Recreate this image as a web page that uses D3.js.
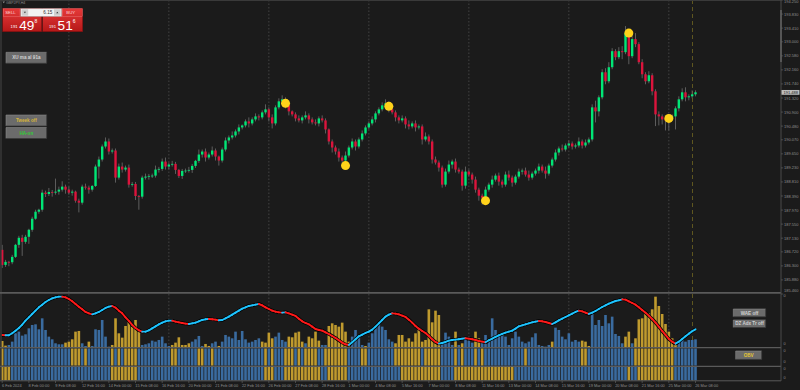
<!DOCTYPE html>
<html>
<head>
<meta charset="utf-8">
<script src="https://cdn.jsdelivr.net/npm/d3@7"></script>
<style>
  html, body { margin: 0; padding: 0; background: #1b1b1b; }
  svg { display: block; font-family: "Liberation Sans", Arial, sans-serif; }
</style>
</head>
<body>
<div id="chart"></div>
<script>
// GBPJPY H4 candles, one per bar (open = previous close)
var firstOpen = 186.78;
var closes = [
  186.33,186.42,186.41,186.57,186.93,187.14,187.02,187.17,187.38,187.71,
  187.92,187.98,188.49,188.45,188.51,188.49,188.52,188.58,188.67,188.58,
  188.49,188.52,188.25,188.19,188.67,188.64,188.58,188.69,189.27,189.48,
  189.87,190.02,189.72,189.75,188.94,189.27,189.18,189.24,188.73,188.75,
  188.39,188.37,188.94,188.97,188.99,189.00,189.18,189.20,189.42,189.27,
  189.33,189.35,189.17,188.99,189.14,189.15,189.17,189.29,189.44,189.63,
  189.72,189.54,189.63,189.75,189.57,189.45,189.78,190.05,190.14,190.20,
  190.32,190.44,190.50,190.62,190.56,190.68,190.77,190.74,190.89,190.98,
  190.74,190.56,191.04,191.22,191.28,191.10,190.92,190.83,190.71,190.65,
  190.74,190.80,190.68,190.59,190.56,190.71,190.65,190.38,190.02,189.84,
  189.72,189.54,189.45,189.60,189.84,190.02,189.87,190.08,190.26,190.44,
  190.56,190.68,190.86,190.98,191.10,191.16,190.98,190.89,190.74,190.65,
  190.71,190.53,190.47,190.56,190.44,190.47,190.08,190.17,190.02,189.48,
  189.39,189.24,188.73,189.12,189.33,189.42,189.18,189.12,188.70,189.12,
  189.03,188.88,188.58,188.40,188.34,188.58,188.73,188.88,189.00,188.82,
  188.73,189.03,188.94,188.79,188.97,189.12,189.15,189.03,188.94,189.06,
  189.15,189.27,189.15,189.06,189.30,189.48,189.69,189.81,189.78,189.90,
  189.96,189.87,189.90,190.02,189.90,189.99,190.08,191.04,190.92,191.34,
  192.09,191.82,192.24,192.72,192.54,192.72,192.69,193.26,192.57,193.08,
  192.93,192.39,192.03,191.82,192.00,191.52,190.83,190.77,190.68,190.65,
  190.74,190.77,191.01,191.28,191.49,191.34,191.37,191.43,191.49
];
// wick lengths above / below the body
var wickHi = [
  .15,.06,.03,.06,.03,.06,.09,.06,.03,.06, .06,.03,.09,.06,.12,.06,.39,.09,.16,.06,
  .09,.06,.03,.06,.06,.09,.06,.03,.06,.09, .06,.12,.09,.06,.06,.09,.12,.06,.09,.06,
  .06,.03,.06,.09,.06,.06,.12,.06,.09,.12, .06,.09,.06,.03,.06,.06,.09,.06,.03,.15,
  .06,.09,.06,.12,.06,.03,.06,.09,.06,.12, .06,.09,.03,.06,.12,.06,.09,.06,.06,.15,
  .06,.09,.06,.09,.12,.06,.09,.03,.06,.09, .06,.12,.06,.06,.09,.06,.09,.06,.03,.06,
  .06,.09,.06,.12,.06,.09,.06,.06,.09,.06, .06,.09,.06,.06,.09,.12,.06,.09,.06,.06,
  .09,.06,.12,.06,.09,.06,.06,.12,.06,.06, .09,.06,.06,.09,.12,.06,.09,.06,.06,.15,
  .06,.06,.09,.06,.06,.09,.06,.12,.06,.09, .06,.09,.12,.06,.06,.09,.06,.09,.12,.06,
  .06,.09,.06,.12,.06,.06,.09,.06,.12,.06, .09,.06,.06,.12,.06,.09,.06,.09,.20,.06,
  .09,.12,.15,.09,.06,.12,.15,.21,.06,.21, .18,.06,.09,.06,.12,.06,.06,.09,.06,.06,
  .09,.06,.06,.09,.12,.15,.06,.12,.06
];
var wickLo = [
  .09,.06,.12,.06,.03,.09,.42,.06,.21,.06, .03,.06,.06,.09,.06,.12,.06,.09,.06,.12,
  .06,.09,.06,.29,.06,.06,.12,.06,.03,.36, .06,.06,.09,.06,.15,.06,.09,.06,.09,.06,
  .12,.39,.06,.06,.09,.06,.06,.09,.06,.09, .09,.06,.12,.06,.09,.06,.06,.09,.06,.06,
  .09,.12,.06,.06,.12,.15,.06,.06,.09,.06, .06,.09,.06,.06,.12,.06,.06,.09,.06,.06,
  .12,.15,.06,.06,.06,.09,.12,.06,.09,.06, .09,.06,.12,.06,.06,.09,.06,.12,.09,.15,
  .09,.12,.18,.15,.06,.06,.12,.06,.06,.06, .06,.06,.09,.06,.06,.06,.09,.06,.12,.09,
  .06,.12,.09,.06,.12,.06,.15,.06,.09,.12, .06,.12,.09,.06,.06,.12,.09,.06,.15,.09,
  .06,.12,.09,.15,.21,.06,.06,.09,.06,.12, .09,.06,.09,.12,.06,.06,.09,.06,.09,.06,
  .06,.09,.06,.15,.06,.06,.06,.09,.06,.06, .06,.09,.06,.06,.09,.06,.06,.06,.33,.15,
  .06,.09,.06,.06,.09,.06,.21,.06,.24,.06, .09,.06,.12,.09,.06,.12,.35,.27,.15,.30,
  .30,.09,.39,.09,.06,.12,.09,.06,.06
];
// swing points (yellow dots)
var dotBars = [85, 103, 116, 145, 188, 200];
var dotPrices = [191.16, 189.30, 191.07, 188.25, 193.26, 190.71];

// oscillator panel: histogram + signal line
var hist = [
  19,5,7,17,42,47,35,39,57,67, 69,54,87,52,32,24,12,9,9,14,
  17,24,47,49,12,4,17,4,54,52, 82,32,2,7,87,42,29,64,77,62,
  82,47,7,9,12,20,17,22,32,12, 4,7,14,30,7,7,12,17,24,34,
  4,10,4,12,17,4,17,37,32,27, 47,22,49,24,14,17,22,27,17,14,
  44,27,32,44,22,17,32,30,44,47, 17,12,32,27,47,20,7,7,64,72,
  67,62,74,47,17,32,52,32,7,4, 14,42,62,72,62,52,24,17,12,37,
  37,17,27,17,42,54,17,22,114,75, 110,97,12,44,32,7,47,7,12,27,
  20,14,47,27,17,37,17,87,52,40, 37,32,7,27,47,32,17,12,17,30,
  42,7,4,2,7,17,59,52,32,24, 42,17,22,17,20,17,4,102,67,82,
  64,97,72,92,40,34,12,32,47,12, 27,84,87,102,102,114,152,124,100,70,
  47,27,12,14,24,17,22,22,24
];
var histGold = [[0,1],[19,23],[26,26],[33,41],[51,56],[61,62],[65,65],[78,81],[86,90],
  [92,95],[98,104],[109,109],[118,131],[136,136],[138,138],[142,143],[165,165],[174,176],
  [187,188],[190,202]];
var osc = [
  37,36,36,42,50,58,68,80,90,100, 110,120,128,136,142,147,150,152,152,150,
  145,138,130,122,114,106,102,99,102,106, 112,118,122,124,119,110,102,90,79,67,
  58,51,47,47,51,57,63,69,74,78, 80,80,77,75,73,71,70,72,74,78,
  82,84,85,84,83,81,82,87,92,98, 104,110,116,120,124,126,128,130,126,120,
  115,110,107,105,104,105,102,98,94,86, 78,73,69,62,55,52,50,45,40,34,
  28,21,14,9,7,15,24,33,38,43, 47,53,62,72,82,92,98,102,101,99,
  95,91,83,74,64,56,49,43,34,24, 16,11,13,16,20,22,23,24,26,27,
  26,24,22,19,17,15,21,26,31,36, 40,44,47,50,56,63,66,69,72,75,
  77,79,78,76,73,70,75,81,86,91, 96,101,106,110,108,104,100,104,109,115,
  121,126,131,135,139,141,144,143,138,133, 128,120,112,104,95,85,74,62,49,37,
  25,17,11,17,25,33,41,48,54
];
// state strips (gold runs, the rest blue)
var strip1Gold = [[0,0],[21,23],[25,25],[33,33],[35,35],[37,40],[51,52],[59,60],[63,63],
  [79,79],[81,81],[85,87],[89,89],[91,94],[97,103],[108,109],[118,125],[127,131],[136,136],
  [138,138],[142,142],[144,144],[157,157],[174,175],[190,201]];
var strip2Gold = [[0,2],[33,40],[79,81],[85,95],[98,103],[120,131],[136,153],[188,188],[191,201]];

var priceTicks = [194.25,193.83,193.41,193.00,192.58,192.16,191.74,191.32,190.90,190.48,
  190.07,189.65,189.23,188.81,188.39,187.97,187.55,187.13,186.72,186.30,185.88,185.46];
var lastPrice = 191.488;
var dateLabels = ["6 Feb 2024","8 Feb 00:00","9 Feb 08:00","12 Feb 16:00","14 Feb 00:00",
  "15 Feb 08:00","16 Feb 16:00","20 Feb 00:00","21 Feb 08:00","22 Feb 16:00","26 Feb 00:00",
  "27 Feb 08:00","28 Feb 16:00","1 Mar 00:00","4 Mar 08:00","5 Mar 16:00","7 Mar 00:00",
  "8 Mar 08:00","11 Mar 16:00","13 Mar 00:00","14 Mar 08:00","15 Mar 16:00","19 Mar 00:00",
  "20 Mar 08:00","21 Mar 16:00","25 Mar 00:00","26 Mar 08:00"];
var gridBars = [20, 50, 80, 110, 140, 170, 200];
var nowBar = 207.1;

var W = 800, H = 390, axisX = 781;
var GREEN = '#00e676', RED = '#dc143c', BLUE = '#3a6b9f', GOLD = '#bf9a2e';

var svg = d3.select('#chart').append('svg').attr('width', W).attr('height', H);
svg.append('rect').attr('width', W).attr('height', H).attr('fill', '#1b1b1b');

var x = d3.scaleLinear().domain([0, 208]).range([2.2, 695.5]);
var y = d3.scaleLinear().domain([185.46, 194.25]).range([294, 0]);
var yOsc = d3.scaleLinear().domain([0, 160]).range([347.3, 294]);

function isGold(runs, i) {
  return runs.some(function(r) { return i >= r[0] && i <= r[1]; });
}

// grid
svg.append('g').selectAll('line').data(gridBars).enter().append('line')
  .attr('x1', function(d) { return x(d); }).attr('x2', function(d) { return x(d); })
  .attr('y1', 0).attr('y2', 381)
  .attr('stroke', '#555').attr('stroke-width', 0.7).attr('stroke-dasharray', '1.5,2');
svg.append('line').attr('x1', x(nowBar)).attr('x2', x(nowBar)).attr('y1', 0).attr('y2', 381)
  .attr('stroke', '#5e5620').attr('stroke-width', 1).attr('stroke-dasharray', '4,3');

// candles
var bars = closes.map(function(c, i) {
  var o = i === 0 ? firstOpen : closes[i - 1];
  return { i: i, o: o, c: c, h: Math.max(o, c) + wickHi[i], l: Math.min(o, c) - wickLo[i] };
});
var cg = svg.append('g');
cg.selectAll('line.wick').data(bars).enter().append('line')
  .attr('x1', function(d) { return x(d.i); }).attr('x2', function(d) { return x(d.i); })
  .attr('y1', function(d) { return y(d.h); }).attr('y2', function(d) { return y(d.l); })
  .attr('stroke', '#6e6e6e').attr('stroke-width', 0.8);
cg.selectAll('rect.body').data(bars).enter().append('rect')
  .attr('x', function(d) { return x(d.i) - 1.2; })
  .attr('width', 2.4)
  .attr('y', function(d) { return y(Math.max(d.o, d.c)); })
  .attr('height', function(d) { return Math.max(0.8, y(Math.min(d.o, d.c)) - y(Math.max(d.o, d.c))); })
  .attr('fill', function(d) { return d.c >= d.o ? GREEN : RED; });

svg.append('g').selectAll('circle').data(dotBars).enter().append('circle')
  .attr('cx', function(d) { return x(d); })
  .attr('cy', function(d, i) { return y(dotPrices[i]); })
  .attr('r', 4.5).attr('fill', '#ffd21a');

// oscillator histogram
svg.append('g').selectAll('rect').data(hist).enter().append('rect')
  .attr('x', function(d, i) { return x(i) - 1.3; }).attr('width', 2.6)
  .attr('y', function(d) { return yOsc(d); })
  .attr('height', function(d) { return yOsc(0) - yOsc(d); })
  .attr('fill', function(d, i) { return isGold(histGold, i) ? GOLD : BLUE; });

// signal line: dark outline then coloured segments
var line = d3.line().x(function(d, i) { return x(i); }).y(function(d) { return yOsc(d); }).curve(d3.curveMonotoneX);
svg.append('path').datum(osc).attr('d', line).attr('fill', 'none')
  .attr('stroke', '#000').attr('stroke-width', 3.4);
var segs = d3.range(1, osc.length);
svg.append('g').selectAll('line').data(segs).enter().append('line')
  .attr('x1', function(i) { return x(i - 1); }).attr('x2', function(i) { return x(i); })
  .attr('y1', function(i) { return yOsc(osc[i - 1]); }).attr('y2', function(i) { return yOsc(osc[i]); })
  .attr('stroke', function(i) { return osc[i] < osc[i - 1] ? '#ff1a1a' : '#1ec4ff'; })
  .attr('stroke-width', 1.9).attr('stroke-linecap', 'round');

// state strips
function strip(runs, y0, y1) {
  svg.append('g').selectAll('rect').data(closes).enter().append('rect')
    .attr('x', function(d, i) { return x(i) - 1.3; }).attr('width', 2.6)
    .attr('y', y0).attr('height', y1 - y0)
    .attr('fill', function(d, i) { return isGold(runs, i) ? GOLD : BLUE; });
}
strip(strip1Gold, 348.4, 365.6);
strip(strip2Gold, 367, 380.3);

// frame, separators, axes
svg.append('line').attr('x1', 0).attr('x2', axisX).attr('y1', 0.5).attr('y2', 0.5).attr('stroke', '#3a3a3a');
svg.append('line').attr('x1', 1).attr('x2', 1).attr('y1', 0).attr('y2', 381).attr('stroke', '#3a3a3a').attr('stroke-width', 1.4);
[[292.9, 1.8], [347.6, 1.2], [366.3, 1.2], [380.8, 1]].forEach(function(s) {
  svg.append('line').attr('x1', 0).attr('x2', axisX).attr('y1', s[0]).attr('y2', s[0])
    .attr('stroke', '#5a5a5a').attr('stroke-width', s[1]);
});
svg.append('line').attr('x1', axisX).attr('x2', axisX).attr('y1', 0).attr('y2', 381).attr('stroke', '#4a4a4a');
svg.append('rect').attr('x', axisX - 1).attr('y', 10).attr('width', 2).attr('height', 52).attr('fill', '#555');

var fmt = d3.format('.3f');
var pt = svg.append('g').selectAll('g').data(priceTicks).enter().append('g');
pt.append('line').attr('x1', axisX).attr('x2', axisX + 2.2)
  .attr('y1', function(d) { return y(d); }).attr('y2', function(d) { return y(d); })
  .attr('stroke', '#666').attr('stroke-width', 0.6);
pt.append('text').attr('x', axisX + 3)
  .attr('y', function(d) { return Math.min(291.6, Math.max(3.4, y(d) + 1.5)); })
  .attr('font-size', 4).attr('fill', '#8e8e8e').text(function(d) { return fmt(d); });

svg.append('rect').attr('x', axisX + 0.5).attr('y', y(lastPrice) - 2.4).attr('width', 18).attr('height', 4.8).attr('fill', '#bdbdbd');
svg.append('text').attr('x', axisX + 2.5).attr('y', y(lastPrice) + 1.5).attr('font-size', 4)
  .attr('fill', '#1b1b1b').text(fmt(lastPrice));

[297, 344.5, 351.5, 362.5, 370, 378.5].forEach(function(v) {
  svg.append('text').attr('x', axisX + 2.5).attr('y', v).attr('font-size', 3.8).attr('fill', '#8e8e8e').text('0');
});

var dl = svg.append('g').selectAll('g').data(dateLabels).enter().append('g');
dl.append('line').attr('x1', function(d, i) { return x(i * 8); }).attr('x2', function(d, i) { return x(i * 8); })
  .attr('y1', 381).attr('y2', 383).attr('stroke', '#666').attr('stroke-width', 0.6);
dl.append('text').attr('x', function(d, i) { return x(i * 8) - 0.3; }).attr('y', 386.8)
  .attr('font-size', 3.9).attr('fill', '#8e8e8e').text(function(d) { return d; });

// chart buttons
function button(x0, y0, w, h, label, col) {
  var g = svg.append('g');
  g.append('rect').attr('x', x0).attr('y', y0).attr('width', w).attr('height', h).attr('fill', '#6b6b6b');
  g.append('path').attr('d', 'M' + x0 + ',' + (y0 + h) + 'V' + y0 + 'H' + (x0 + w))
    .attr('fill', 'none').attr('stroke', '#8c8c8c').attr('stroke-width', 0.6);
  g.append('path').attr('d', 'M' + (x0 + w) + ',' + y0 + 'V' + (y0 + h) + 'H' + x0)
    .attr('fill', 'none').attr('stroke', '#3a3a3a').attr('stroke-width', 0.8);
  g.append('text').attr('x', x0 + w / 2).attr('y', y0 + h / 2 + 1.6).attr('text-anchor', 'middle')
    .attr('font-size', 4.6).attr('font-weight', 'bold').attr('fill', col).text(label);
}
button(6, 52.3, 40.7, 11, 'XU ma al 91a', '#d2d2d2');
button(6, 115, 40.7, 11, 'Tweek off', '#d6b43c');
button(6, 127.5, 40.7, 11, 'HA-on', '#33cc33');
button(733.3, 309, 32.4, 7.8, 'WAE off', '#d0d0d0');
button(733.3, 320, 32.4, 7.5, 'DZ Adx Tr off', '#d0d0d0');
button(735.7, 351, 26, 8.4, 'OBV', '#e6c632');

// symbol caption and one-click trading panel
svg.append('path').attr('d', 'M2.5,1.6 L5,1.6 L3.75,3.2 Z').attr('fill', '#8e8e8e');
svg.append('text').attr('x', 6).attr('y', 3.8).attr('font-size', 3.6).attr('fill', '#8e8e8e').text('GBPJPY,H4');

var defs = svg.append('defs');
var grad = defs.append('linearGradient').attr('id', 'redG').attr('x1', 0).attr('y1', 0).attr('x2', 0).attr('y2', 1);
grad.append('stop').attr('offset', '0%').attr('stop-color', '#e63a3a');
grad.append('stop').attr('offset', '100%').attr('stop-color', '#b51818');

var otp = svg.append('g');
otp.append('rect').attr('x', 2.7).attr('y', 8.3).attr('width', 39).attr('height', 23.4)
  .attr('fill', 'url(#redG)').attr('stroke', '#7e0d0d').attr('stroke-width', 0.5);
otp.append('rect').attr('x', 42.7).attr('y', 8.3).attr('width', 40).attr('height', 23.4)
  .attr('fill', 'url(#redG)').attr('stroke', '#7e0d0d').attr('stroke-width', 0.5);
otp.append('rect').attr('x', 3.2).attr('y', 8.8).attr('width', 16.8).attr('height', 7.6)
  .attr('fill', 'none').attr('stroke', '#f08080').attr('stroke-width', 0.4);
otp.append('rect').attr('x', 62.7).attr('y', 8.8).attr('width', 19.5).attr('height', 7.6)
  .attr('fill', 'none').attr('stroke', '#f08080').attr('stroke-width', 0.4);
otp.append('rect').attr('x', 20.7).attr('y', 8.5).attr('width', 41).attr('height', 8)
  .attr('fill', '#f2f2f2').attr('stroke', '#8a8a8a').attr('stroke-width', 0.4);
otp.append('rect').attr('x', 21.6).attr('y', 9.3).attr('width', 6.6).attr('height', 6.4).attr('fill', '#cfcfcf');
otp.append('rect').attr('x', 54).attr('y', 9.3).attr('width', 6.6).attr('height', 6.4).attr('fill', '#cfcfcf');
otp.append('path').attr('d', 'M23.8,11.8 L26,11.8 L24.9,13.3 Z').attr('fill', '#333');
otp.append('path').attr('d', 'M56.2,13.3 L58.4,13.3 L57.3,11.8 Z').attr('fill', '#333');
otp.append('text').attr('x', 52.3).attr('y', 14.1).attr('text-anchor', 'end').attr('font-size', 4.6)
  .attr('fill', '#333').text('6.15');
otp.append('text').attr('x', 5.2).attr('y', 14.1).attr('font-size', 4.3).attr('fill', '#ffd6d6').text('SELL');
otp.append('text').attr('x', 66.3).attr('y', 14.1).attr('font-size', 4.3).attr('fill', '#ffd6d6').text('BUY');

[[10.6, '191', '49', '8'], [49, '191', '51', '6']].forEach(function(q) {
  otp.append('text').attr('x', q[0]).attr('y', 28.4).attr('font-size', 4.2).attr('fill', '#fff').text(q[1]);
  otp.append('text').attr('x', q[0] + 8.6).attr('y', 30).attr('font-size', 13.6).attr('fill', '#fff').text(q[2]);
  otp.append('text').attr('x', q[0] + 23.8).attr('y', 22.8).attr('font-size', 5).attr('fill', '#fff').text(q[3]);
});
</script>
</body>
</html>
